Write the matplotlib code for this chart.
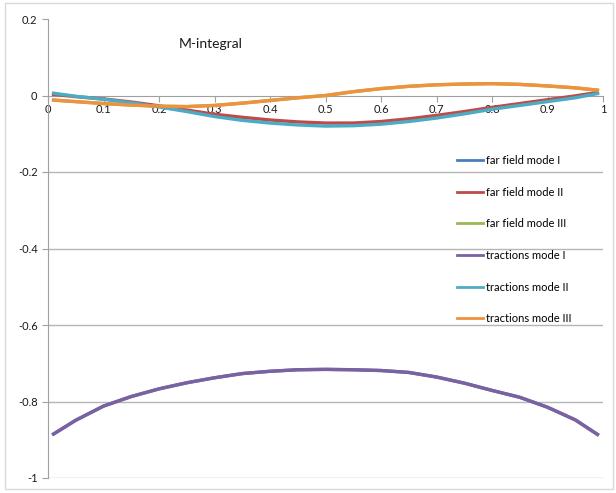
import matplotlib.pyplot as plt
from matplotlib.patches import Rectangle

plt.rcParams['font.family'] = ['Lato', 'DejaVu Sans']

# ---- data ----
x = [0.01, 0.05, 0.10, 0.15, 0.20, 0.25, 0.30, 0.35, 0.40, 0.45, 0.50,
     0.55, 0.60, 0.65, 0.70, 0.75, 0.80, 0.85, 0.90, 0.95, 0.99]

tractions_I = [-0.885, -0.849, -0.812, -0.787, -0.767, -0.751, -0.738, -0.727, -0.721, -0.717, -0.716,
               -0.717, -0.719, -0.724, -0.736, -0.752, -0.771, -0.789, -0.815, -0.848, -0.886]
far_I = [-0.885, -0.849, -0.812, -0.787, -0.767, -0.751, -0.738, -0.727, -0.721, -0.717, -0.716,
         -0.717, -0.719, -0.724, -0.736, -0.752, -0.771, -0.789, -0.815, -0.848, -0.886]

far_II = [0.003, -0.003, -0.009, -0.017, -0.027, -0.038, -0.049, -0.057, -0.064, -0.069, -0.072,
          -0.072, -0.068, -0.061, -0.052, -0.042, -0.031, -0.021, -0.011, -0.001, 0.008]
tractions_II = [0.006, -0.002, -0.010, -0.019, -0.030, -0.042, -0.055, -0.065, -0.072, -0.077, -0.080,
                -0.079, -0.075, -0.068, -0.059, -0.048, -0.036, -0.026, -0.016, -0.006, 0.005]

tractions_III = [-0.012, -0.016, -0.021, -0.025, -0.028, -0.029, -0.026, -0.020, -0.013, -0.006, 0.000,
                 0.010, 0.018, 0.024, 0.028, 0.030, 0.031, 0.029, 0.025, 0.020, 0.014]
far_III = tractions_III

xticks = [0, 0.1, 0.2, 0.3, 0.4, 0.5, 0.6, 0.7, 0.8, 0.9, 1]
xtick_labels = ['0', '0.1', '0.2', '0.3', '0.4', '0.5', '0.6', '0.7', '0.8', '0.9', '1']
yticks = [-1, -0.8, -0.6, -0.4, -0.2, 0, 0.2]
ytick_labels = ['-1', '-0.8', '-0.6', '-0.4', '-0.2', '0', '0.2']

# ---- figure ----
fig = plt.figure(figsize=(6.16, 4.93), dpi=100)
ax = fig.add_axes([48 / 616, 15 / 493, 555 / 616, 459 / 493])

# chart border
fig.patches.append(Rectangle((5 / 616, 4 / 493), 608 / 616, 486 / 493, transform=fig.transFigure,
                             fill=False, edgecolor='#d9d9d9', lw=1))

lw = 2.4
ax.plot(x, far_I, color='#4A7EBB', lw=lw, label='far field mode I', zorder=3)
ax.plot(x, far_II, color='#BE4B48', lw=lw, label='far field mode II', zorder=3)
ax.plot(x, far_III, color='#98B954', lw=lw, label='far field mode III', zorder=3)
ax.plot(x, tractions_I, color='#7D60A0', lw=lw, label='tractions mode I', zorder=4)
ax.plot(x, tractions_II, color='#4BACC6', lw=lw, label='tractions mode II', zorder=4)
ax.plot(x, tractions_III, color='#F0913E', lw=lw, label='tractions mode III', zorder=4)

ax.set_xlim(0, 1)
ax.set_ylim(-1, 0.2)

# excel style axes
for s in ['top', 'right']:
    ax.spines[s].set_visible(False)
ax.spines['bottom'].set_position(('data', 0))
ax.spines['bottom'].set_color('#a0a0a0')
ax.spines['left'].set_color('#a0a0a0')

ax.set_xticks(xticks)
ax.set_xticklabels(xtick_labels)
ax.set_yticks(yticks)
ax.set_yticklabels(ytick_labels)
ax.tick_params(axis='both', labelsize=8, color='#a0a0a0', length=4, labelcolor='#1a1a1a')
ax.tick_params(axis='x', pad=2)

ax.yaxis.grid(True, color='#b5b5b5', lw=1)
ax.set_axisbelow(True)
ax.get_ygridlines()[-1].set_visible(False)
ax.get_ygridlines()[-2].set_visible(False)

ax.text(0.235, 0.135, 'M-integral', fontsize=10, color='#1a1a1a', ha='left', va='center')

leg = ax.legend(loc='upper left', bbox_to_anchor=(457 / 616, 1 - 155 / 493), bbox_transform=fig.transFigure,
                frameon=False, fontsize=8, borderpad=0, borderaxespad=0, handlelength=2.3,
                handletextpad=0.3, labelspacing=1.86)
for h in leg.get_lines():
    h.set_linewidth(2)

fig.savefig('out.png', dpi=100)
